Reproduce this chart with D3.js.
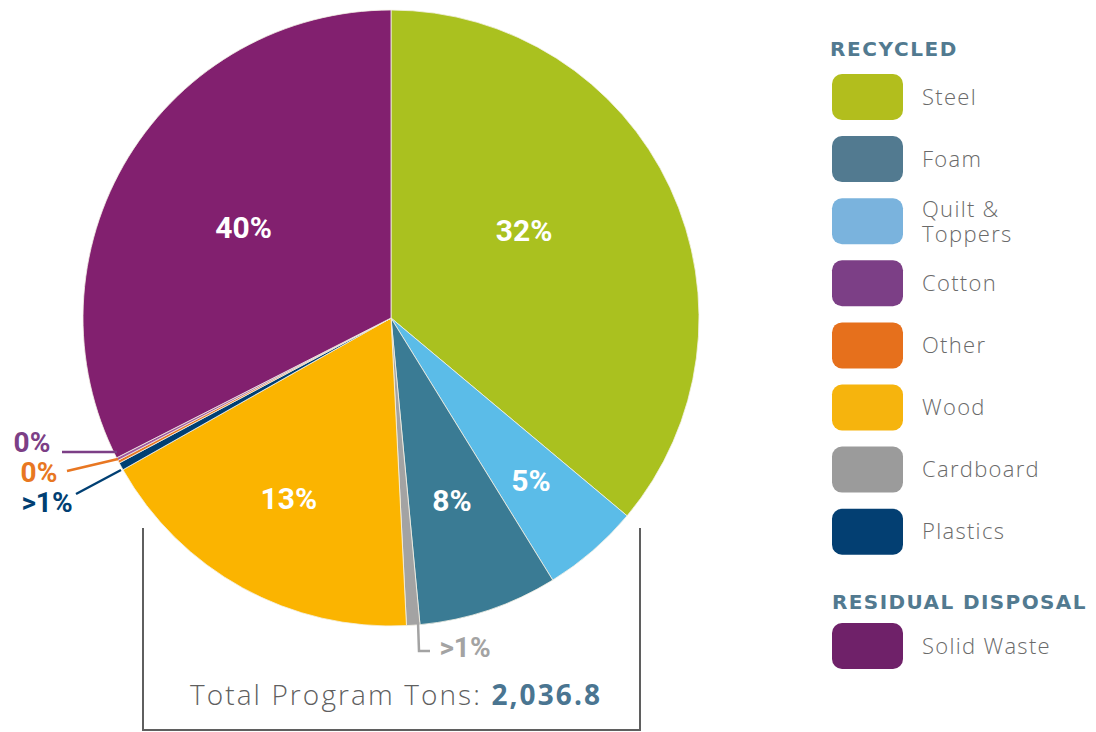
<!DOCTYPE html>
<html>
<head>
<meta charset="utf-8">
<script src="https://cdn.jsdelivr.net/npm/d3@7"></script>
<style>
  body { margin: 0; background: #fff; }
  svg { display: block; }
</style>
</head>
<body>
<div class="chart"></div>
<script>
// slice order as drawn clockwise from 12 o'clock
var sliceNames = ["Steel", "Quilt & Toppers", "Foam", "Cardboard", "Wood", "Plastics", "Other", "Cotton", "Solid Waste"];
var sliceShares = [36.1, 5.1, 7.3, 0.7, 17.6, 0.4, 0.15, 0.15, 32.5];
// printed labels
var sliceLabels = ["32%", "5%", "8%", ">1%", "13%", ">1%", "0%", "0%", "40%"];
var sliceColors = ["#aac11f", "#5bbce8", "#3a7b94", "#a3a3a3", "#fbb400", "#003f73", "#e87722", "#a0579f", "#82206f"];

var recycledNames = ["Steel", "Foam", "Quilt & Toppers", "Cotton", "Other", "Wood", "Cardboard", "Plastics"];
var recycledColors = ["#b2be1d", "#527a90", "#7ab3dd", "#7c3f86", "#e6701c", "#f6b40d", "#9b9b9b", "#033f72"];
var disposalNames = ["Solid Waste"];
var disposalColors = ["#6f2169"];

var totalLabel = "Total Program Tons: ";
var totalValue = "2,036.8";

var width = 1096, height = 732;
var cx = 391, cy = 318, radius = 308;

var svg = d3.select(".chart")
    .append("svg")
    .attr("width", width)
    .attr("height", height);

var g = svg.append("g")
    .attr("transform", "translate(" + cx + "," + cy + ")");

var pie = d3.pie().sort(null).value(function (d) { return d; });
var arcs = pie(sliceShares);

var arc = d3.arc().innerRadius(0).outerRadius(radius);

g.selectAll("path.slice")
    .data(arcs)
    .enter()
    .append("path")
    .attr("class", "slice")
    .attr("d", arc)
    .attr("fill", function (d, i) { return sliceColors[i]; })
    .attr("stroke", "#f4f1e6")
    .attr("stroke-width", 0.8);

// inner labels: radius and small nudges so they sit where the print has them
var inside = { "Steel": [159, -11, -21], "Quilt & Toppers": [214, 0, 0], "Foam": [192, 0, 0], "Wood": [206, -3, 0], "Solid Waste": [173, 0, 0] };

arcs.forEach(function (d, i) {
    var conf = inside[sliceNames[i]];
    if (!conf) return;
    var c = d3.arc().innerRadius(conf[0]).outerRadius(conf[0]).centroid(d);
    g.append("text")
        .attr("x", c[0] + conf[1])
        .attr("y", c[1] + conf[2])
        .attr("dy", "0.36em")
        .attr("text-anchor", "middle")
        .style("font-family", "'Liberation Sans Narrow', 'Roboto', sans-serif")
        .style("font-weight", "bold")
        .style("font-size", "30px")
        .style("fill", "#fff")
        .text(sliceLabels[i]);
});

// outside labels with leader lines (slice index, label pos, line points)
var outside = [
    { i: 7, tx: 32, ty: 442, pts: [[62, 452], [117, 452]] },
    { i: 6, tx: 39, ty: 472, pts: [[67, 471], [118, 459]] },
    { i: 5, tx: 47, ty: 502, pts: [[76, 494], [121, 470]] },
    { i: 3, tx: 465, ty: 647, pts: [[418, 622], [419, 651], [430, 651]] }
];
var outColors = { 7: "#7c3f86", 6: "#e87722", 5: "#003f73", 3: "#a3a3a3" };

outside.forEach(function (o) {
    svg.append("path")
        .attr("d", d3.line()(o.pts))
        .attr("fill", "none")
        .attr("stroke", outColors[o.i])
        .attr("stroke-width", 2.5);
    svg.append("text")
        .attr("x", o.tx)
        .attr("y", o.ty)
        .attr("dy", "0.34em")
        .attr("text-anchor", "middle")
        .style("font-family", "'Liberation Sans Narrow', 'Roboto', sans-serif")
        .style("font-weight", "bold")
        .style("font-size", "28px")
        .style("fill", outColors[o.i])
        .text(sliceLabels[o.i]);
});

// bracket under the pie
svg.append("path")
    .attr("d", d3.line()([[143, 528], [143, 730], [640, 730], [640, 528]]))
    .attr("fill", "none")
    .attr("stroke", "#5f5f5f")
    .attr("stroke-width", 2);

var total = svg.append("text")
    .attr("x", 396)
    .attr("y", 705)
    .attr("text-anchor", "middle")
    .style("font-family", "'Open Sans', sans-serif")
    .style("font-size", "28px")
    .style("letter-spacing", "2.1px");
total.append("tspan")
    .style("fill", "#5f5f5f")
    .style("font-weight", 300)
    .text(totalLabel);
total.append("tspan")
    .style("fill", "#4a7591")
    .style("font-weight", "bold")
    .text(totalValue);

// legend
var legend = svg.append("g").attr("class", "legend");
var legendFont = "'Open Sans', sans-serif";
var headFont = "'DejaVu Sans', sans-serif";
var step = 62.1;

legend.append("text")
    .attr("x", 830)
    .attr("y", 56)
    .style("font-family", headFont)
    .style("font-weight", "bold")
    .style("font-size", "20px")
    .style("letter-spacing", "1.6px")
    .style("fill", "#527a90")
    .text("RECYCLED");

function legendRow(name, color, y) {
    legend.append("rect")
        .attr("x", 832)
        .attr("y", y)
        .attr("width", 71)
        .attr("height", 46)
        .attr("rx", 10)
        .attr("fill", color);
    var lines = name === "Quilt & Toppers" ? ["Quilt &", "Toppers"] : [name];
    var t = legend.append("text")
        .attr("x", 922)
        .attr("y", y + 23 - (lines.length - 1) * 12)
        .style("font-family", legendFont)
        .style("font-weight", 300)
        .style("font-size", "22px")
        .style("letter-spacing", "1.3px")
        .style("fill", "#6a6a6a");
    lines.forEach(function (l, k) {
        t.append("tspan").attr("x", 922).attr("dy", k === 0 ? "0.35em" : "1.12em").text(l);
    });
}

recycledNames.forEach(function (n, i) {
    legendRow(n, recycledColors[i], 74 + i * step);
});

legend.append("text")
    .attr("x", 832)
    .attr("y", 609)
    .style("font-family", headFont)
    .style("font-weight", "bold")
    .style("font-size", "20px")
    .style("letter-spacing", "1.4px")
    .style("fill", "#527a90")
    .text("RESIDUAL DISPOSAL");

disposalNames.forEach(function (n, i) {
    legendRow(n, disposalColors[i], 623 + i * step);
});
</script>
</body>
</html>
